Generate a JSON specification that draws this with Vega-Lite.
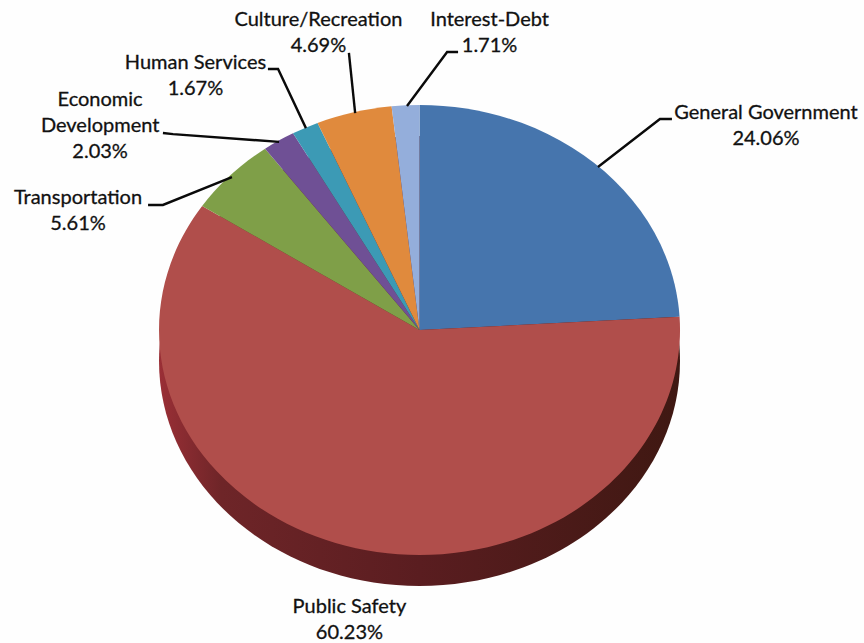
{
  "$schema": "https://vega.github.io/schema/vega-lite/v6.json",
  "width": 864,
  "height": 643,
  "autosize": "none",
  "padding": 0,
  "background": "#fefefe",
  "config": {"view": {"stroke": null}},
  "datasets": {
    "slices": [
      {"name": "General Government", "share": 24.06, "rank": 1},
      {"name": "Public Safety", "share": 60.23, "rank": 2},
      {"name": "Transportation", "share": 5.61, "rank": 3},
      {"name": "Economic Development", "share": 2.03, "rank": 4},
      {"name": "Human Services", "share": 1.67, "rank": 5},
      {"name": "Culture/Recreation", "share": 4.69, "rank": 6},
      {"name": "Interest-Debt", "share": 1.71, "rank": 7}
    ],
    "anchors": [
      {"name": "General Government", "lines": "General Government", "ax": 133.0, "ay": 83.3},
      {"name": "Public Safety", "lines": "Public Safety", "ax": -26.9, "ay": -106.3},
      {"name": "Transportation", "lines": "Transportation", "ax": -131.1, "ay": 50.7},
      {"name": "Economic Development", "lines": "Economic|Development", "ax": -122.6, "ay": 88.3},
      {"name": "Human Services", "lines": "Human Services", "ax": -86.0, "ay": 102.5},
      {"name": "Culture/Recreation", "lines": "Culture/Recreation", "ax": -38.8, "ay": 119.0},
      {"name": "Interest-Debt", "lines": "Interest-Debt", "ax": 26.9, "ay": 119.0}
    ],
    "leaders": [
      {"name": "General Government", "step": 1, "lx": 96.9, "ly": 81.0},
      {"name": "General Government", "step": 2, "lx": 92.3, "ly": 81.0},
      {"name": "General Government", "step": 3, "lx": 68.5, "ly": 62.6},
      {"name": "Transportation", "step": 1, "lx": -104.2, "ly": 48.0},
      {"name": "Transportation", "step": 2, "lx": -98.5, "ly": 48.0},
      {"name": "Transportation", "step": 3, "lx": -72.0, "ly": 58.7},
      {"name": "Economic Development", "step": 1, "lx": -98.5, "ly": 75.6},
      {"name": "Economic Development", "step": 2, "lx": -94.6, "ly": 75.2},
      {"name": "Economic Development", "step": 3, "lx": -53.9, "ly": 72.2},
      {"name": "Human Services", "step": 1, "lx": -58.2, "ly": 100.2},
      {"name": "Human Services", "step": 2, "lx": -54.3, "ly": 100.2},
      {"name": "Human Services", "step": 3, "lx": -43.6, "ly": 77.5},
      {"name": "Culture/Recreation", "step": 1, "lx": -27.1, "ly": 106.4},
      {"name": "Culture/Recreation", "step": 2, "lx": -24.7, "ly": 83.3},
      {"name": "Interest-Debt", "step": 1, "lx": 14.8, "ly": 106.7},
      {"name": "Interest-Debt", "step": 2, "lx": 10.6, "ly": 106.7},
      {"name": "Interest-Debt", "step": 3, "lx": -4.8, "ly": 86.0}
    ]
  },
  "layer": [
    {
      "description": "Rim of the tilted pie: the face ellipse dropped below the top face",
      "data": {"values": [{"part": "rim"}]},
      "mark": {
        "type": "point",
        "filled": true,
        "opacity": 1,
        "strokeWidth": 0,
        "size": 271441,
        "shape": "M-1,0.119A1,0.8637 0 1,0 1,0.119A1,0.8637 0 1,0 -1,0.119Z",
        "fill": {
          "gradient": "linear",
          "x1": 0, "x2": 1, "y1": 0, "y2": 0,
          "stops": [
            {"offset": 0, "color": "#9a2f36"},
            {"offset": 0.12, "color": "#6e2528"},
            {"offset": 0.5, "color": "#5a1d20"},
            {"offset": 1, "color": "#3f1812"}
          ]
        }
      },
      "encoding": {
        "x": {"datum": 0, "type": "quantitative", "scale": {"domain": [-161.04, 170.63]}, "axis": null},
        "y": {"datum": 0, "type": "quantitative", "scale": {"domain": [-120.15, 126.68]}, "axis": null}
      }
    },
    {
      "description": "Top face: each wedge is an elliptical sector built from its share",
      "data": {"name": "slices"},
      "transform": [
        {"joinaggregate": [{"op": "sum", "field": "share", "as": "total"}]},
        {"window": [{"op": "sum", "field": "share", "as": "upto"}], "sort": [{"field": "rank", "order": "ascending"}]},
        {"calculate": "2 * PI * (datum.upto - datum.share) / datum.total", "as": "t0"},
        {"calculate": "2 * PI * datum.upto / datum.total", "as": "t1"},
        {"calculate": "'M0,0L' + round(sin(datum.t0) * 10000) / 10000 + ',' + round(-0.8637 * cos(datum.t0) * 10000) / 10000 + 'A1,0.8637 0 ' + (datum.t1 - datum.t0 > PI ? 1 : 0) + ',1 ' + round(sin(datum.t1) * 10000) / 10000 + ',' + round(-0.8637 * cos(datum.t1) * 10000) / 10000 + 'Z'", "as": "sector"}
      ],
      "mark": {"type": "point", "filled": true, "opacity": 1, "strokeWidth": 0, "size": 271441},
      "encoding": {
        "x": {"datum": 0, "type": "quantitative", "scale": {"domain": [-161.04, 170.63]}, "axis": null},
        "y": {"datum": 0, "type": "quantitative", "scale": {"domain": [-120.15, 126.68]}, "axis": null},
        "shape": {"field": "sector", "type": "nominal", "scale": null, "legend": null},
        "color": {
          "field": "name",
          "type": "nominal",
          "legend": null,
          "scale": {
            "domain": ["General Government", "Public Safety", "Transportation", "Economic Development", "Human Services", "Culture/Recreation", "Interest-Debt"],
            "range": ["#4675ad", "#b04e4b", "#7f9f48", "#6f5095", "#3c9ab5", "#e08a3d", "#94aedb"]
          }
        }
      }
    },
    {
      "description": "Elbowed leader lines from labels to wedges",
      "data": {"name": "leaders"},
      "mark": {"type": "line", "color": "#0a0a0a", "strokeWidth": 2.4},
      "encoding": {
        "x": {"field": "lx", "type": "quantitative", "scale": {"domain": [-161.04, 170.63]}, "axis": null},
        "y": {"field": "ly", "type": "quantitative", "scale": {"domain": [-120.15, 126.68]}, "axis": null},
        "detail": {"field": "name"},
        "order": {"field": "step"}
      }
    },
    {
      "description": "Category name with its percentage beneath",
      "data": {"name": "slices"},
      "transform": [
        {"lookup": "name", "from": {"data": {"name": "anchors"}, "key": "name", "fields": ["lines", "ax", "ay"]}},
        {"calculate": "datum.lines + '|' + format(datum.share, '.2f') + '%'", "as": "caption"}
      ],
      "mark": {
        "type": "text",
        "font": "Lato",
        "fontSize": 20,
        "color": "#111111",
        "stroke": "#111111",
        "strokeWidth": 0.3,
        "align": "center",
        "baseline": "middle",
        "lineBreak": "|",
        "lineHeight": 26
      },
      "encoding": {
        "x": {"field": "ax", "type": "quantitative", "scale": {"domain": [-161.04, 170.63]}, "axis": null},
        "y": {"field": "ay", "type": "quantitative", "scale": {"domain": [-120.15, 126.68]}, "axis": null},
        "text": {"field": "caption"}
      }
    }
  ]
}
